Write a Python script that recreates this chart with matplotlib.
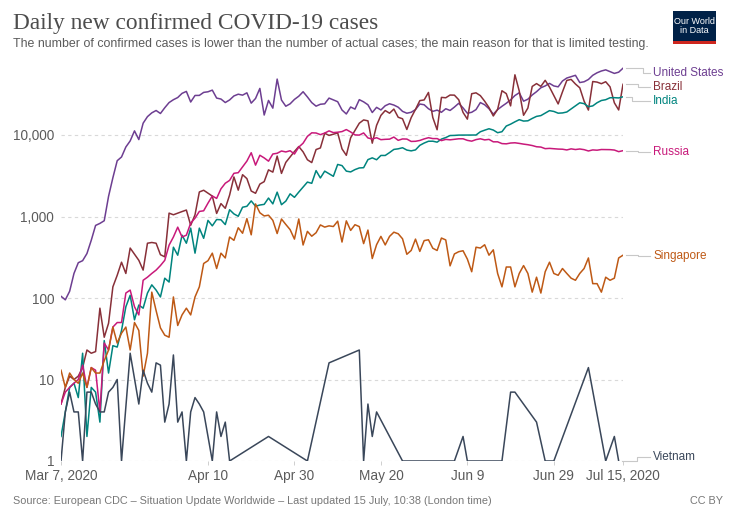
import numpy as np
import pandas as pd
import matplotlib
matplotlib.use("Agg")
import matplotlib.pyplot as plt
import matplotlib.dates as mdates
from matplotlib.lines import Line2D
from matplotlib.patches import Rectangle
from matplotlib.ticker import NullLocator

nan = np.nan
dates = pd.date_range("2020-03-07", "2020-07-15", freq="D")

united_states = [
    105, 95, 121, 200, 271, 287, 351, 511, 777, 823,
    887, 1766, 2988, 4835, 5374, 7123, 8459, 11236, 8789, 13963,
    16797, 18695, 19979, 18360, 21595, 24998, 27103, 28819, 32425, 34272,
    25398, 30561, 30613, 33323, 33901, 35527, 28391, 27620, 25023, 26922,
    30148, 31667, 30833, 32922, 24601, 28065, 37289, 17588, 26543, 21352,
    48529, 26857, 22541, 24132, 27326, 29917, 33955, 29288, 24972, 22593,
    23841, 24128, 28369, 26957, 25612, 20258, 18117, 22048, 20782, 27143,
    25508, 23488, 18873, 21841, 20289, 22860, 24173, 23297, 21928, 19500,
    18500, 19000, 20500, 24000, 23500, 21000, 19500, 20200, 19000, 21000,
    20000, 22000, 24500, 21500, 18500, 19000, 20500, 25000, 23500, 21000,
    18000, 20500, 22500, 24500, 27000, 30500, 33000, 26000, 27500, 31000,
    34000, 38000, 40000, 43000, 40000, 39000, 46000, 50000, 52000, 54000,
    44000, 45000, 48000, 54000, 58000, 61000, 63000, 60000, 57000, 59000, 66000]

brazil = [
    5, 8, 11, 10, 11, 14, 23, 21, 22, 75,
    33, 49, 137, 190, 275, 200, 410, 345, 290, 220,
    470, 480, 470, 340, 320, 1100, 1050, 1100, 1150, 1200,
    780, 1050, 2000, 2100, 1930, 1780, 1090, 1440, 1260, 1830,
    3058, 2105, 3257, 2917, 2055, 1927, 2498, 2678, 3735, 3503,
    5514, 3379, 4613, 5385, 6276, 7218, 6209, 4970, 4588, 6633,
    6935, 10503, 9888, 10222, 10611, 6760, 5632, 9258, 11385, 13944,
    15305, 14919, 7938, 13140, 17408, 19951, 18508, 20803, 16508, 15813,
    11687, 16324, 20599, 26417, 26928, 33274, 16409, 11598, 28936, 28633,
    30925, 30830, 27075, 18912, 15654, 32091, 32913, 30412, 25982, 21704,
    17110, 20647, 34918, 32188, 22765, 54771, 34666, 17459, 21432, 39436,
    42725, 39483, 46860, 38693, 30476, 24052, 33846, 46712, 48105, 42223,
    37923, 26051, 20229, 45305, 44571, 42619, 45048, 39023, 24831, 20286, 41857]

india = [
    2, 4, 8, 9, 6, 21, 2, 8, 7, 3,
    30, 12, 26, 25, 40, 78, 108, 54, 82, 75,
    115, 145, 125, 103, 175, 157, 420, 335, 590, 470,
    720, 355, 720, 540, 896, 768, 918, 912, 796, 1211,
    1076, 1007, 1299, 1334, 1553, 1336, 1383, 1409, 1684, 1429,
    1990, 1396, 1543, 1897, 1718, 1993, 2293, 2644, 2553, 3656,
    2971, 3602, 3344, 3113, 4353, 4213, 3604, 3524, 3763, 3942,
    3970, 4987, 5242, 4970, 5611, 5609, 6088, 6654, 6767, 6977,
    6535, 6387, 6566, 7466, 7964, 8380, 8392, 8171, 8909, 9304,
    9851, 9887, 9971, 9983, 9987, 9985, 9996, 10956, 11458, 11929,
    11502, 10667, 10974, 12881, 13586, 14516, 15413, 14821, 14933, 15968,
    16922, 17296, 18552, 19906, 19459, 18522, 18653, 19148, 20903, 22771,
    24850, 24248, 22252, 22752, 24879, 26506, 27114, 28637, 28701, 28498, 29429]

russia = [
    5, 7, 8, 9, 10, 15, 8, 14, 13, 4,
    28, 23, 44, 50, 50, 115, 125, 78, 62, 165,
    180, 200, 220, 250, 290, 445, 560, 740, 560, 590,
    830, 954, 1154, 1175, 1459, 1786, 1667, 2186, 2558, 2774,
    3388, 3448, 4070, 4785, 6060, 4268, 5642, 5236, 4774, 5849,
    5966, 6361, 6198, 6411, 5841, 7099, 7933, 9623, 10633, 10581,
    10102, 10559, 11231, 10699, 10817, 11012, 11656, 10899, 10028, 9974,
    10598, 9200, 8926, 9263, 8764, 8849, 8894, 9434, 8599, 8946,
    8915, 8338, 8371, 8572, 8952, 9268, 9035, 9035, 8536, 8831,
    8726, 8855, 8984, 8985, 8595, 8404, 8779, 8987, 8706, 8835,
    8246, 8248, 7843, 7790, 7972, 8026, 7889, 7728, 7600, 7425,
    7176, 7113, 6800, 6852, 6791, 6719, 6693, 6556, 6760, 6632,
    6736, 6611, 6368, 6562, 6509, 6635, 6615, 6611, 6537, 6248, 6422]

singapore = [
    13, 8, 12, 10, 9, 12, 8, 14, 12, 12,
    17, 23, 44, 28, 37, 44, 23, 50, 40, 11,
    21, 118, 70, 43, 35, 33, 103, 46, 62, 75,
    62, 103, 137, 265, 287, 355, 230, 355, 310, 560,
    510, 728, 623, 942, 596, 1426, 1111, 1016, 1037, 897,
    618, 931, 799, 690, 528, 932, 447, 657, 573, 632,
    788, 741, 768, 753, 876, 486, 884, 675, 793, 752,
    465, 682, 305, 451, 570, 448, 570, 642, 614, 533,
    344, 383, 528, 373, 506, 518, 408, 383, 544, 516,
    248, 347, 370, 380, 300, 210, 420, 410, 450, 335,
    390, 200, 137, 240, 240, 137, 200, 250, 200, 118,
    180, 115, 210, 275, 200, 190, 230, 200, 175, 165,
    200, 230, 310, 150, 150, 118, 180, 165, 175, 310, 335]

vietnam = [
    1, 4, 7, 4, 4, 1, 7, 7, 5, 4,
    4, 7, 8, 10, 1, nan, 21, nan, 5, 13,
    9, 7, 16, 15, 3, 5, 20, 3, 4, 1,
    4, 6, 5, 4, nan, 1, 4, 2, 3, 1,
    nan, nan, nan, nan, nan, nan, nan, nan, 2, nan,
    nan, nan, nan, nan, nan, nan, nan, 1, nan, nan,
    nan, nan, 16, nan, nan, nan, nan, nan, nan, 23,
    1, 5, 2, 4, nan, nan, nan, nan, nan, 1,
    nan, nan, nan, nan, nan, nan, nan, nan, nan, nan,
    nan, 1, nan, 2, 1, nan, nan, nan, nan, nan,
    nan, nan, 1, nan, 7, 7, nan, nan, nan, nan,
    3, nan, 1, nan, 1, nan, nan, nan, nan, nan,
    nan, nan, 14, nan, nan, nan, 1, nan, 2, 1, nan]

countries = ["United States", "Brazil", "India", "Russia", "Singapore", "Vietnam"]
series = [united_states, brazil, india, russia, singapore, vietnam]
colors = ["#6d3e91", "#883039", "#00847e", "#c8197a", "#be5915", "#3a475a"]
label_y_px = [73, 87, 101, 152, 256, 457]
elbow_x_px = [643, 638, 632, 638, 638, 637]

tick_dates = pd.to_datetime(["2020-03-07", "2020-04-10", "2020-04-30", "2020-05-20",
                             "2020-06-09", "2020-06-29", "2020-07-15"])
tick_labels = ["Mar 7, 2020", "Apr 10", "Apr 30", "May 20", "Jun 9", "Jun 29", "Jul 15, 2020"]
y_ticks = [1, 10, 100, 1000, 10000]
y_tick_labels = ["1", "10", "100", "1,000", "10,000"]

plt.rcParams["font.family"] = ["Liberation Sans", "DejaVu Sans"]

W, H = 736, 519
fig = plt.figure(figsize=(W / 100, H / 100), dpi=100)
fig.patch.set_facecolor("white")

ax_left, ax_right, ax_top, ax_bottom = 61, 623, 62, 461
ax = fig.add_axes([ax_left / W, 1 - ax_bottom / H, (ax_right - ax_left) / W, (ax_bottom - ax_top) / H])
ax.set_yscale("log")
ax.set_ylim(1, 10 ** ((ax_bottom - ax_top) / 81.5))
ax.set_xlim(dates[0], dates[-1])

for vals, col in zip(series, colors):
    arr = np.array(vals, dtype=float)
    m = ~np.isnan(arr)
    ax.plot(dates[m], arr[m], color=col, lw=1.1, solid_joinstyle="round", zorder=3)

ax.set_yticks(y_ticks)
ax.set_yticklabels(y_tick_labels)
ax.yaxis.set_minor_locator(NullLocator())
ax.set_xticks(tick_dates)
ax.set_xticklabels(tick_labels)
ax.xaxis.set_minor_locator(NullLocator())
ax.tick_params(axis="y", length=0, pad=5, labelsize=9.8, labelcolor="#5b5b5b")
ax.tick_params(axis="x", length=3, width=0.6, color="#c8c8c8", pad=3, labelsize=9.8, labelcolor="#5b5b5b")
ax.grid(axis="y", color="#d9d9d9", linestyle=(0, (3, 3)), lw=0.8)
ax.set_axisbelow(True)
for s in ax.spines.values():
    s.set_visible(False)

# End labels with connectors
for name, vals, col, ly, ex in zip(countries, series, colors, label_y_px, elbow_x_px):
    arr = np.array(vals, dtype=float)
    idx = np.where(~np.isnan(arr))[0][-1]
    xd, yd = ax.transData.transform((mdates.date2num(dates[idx]), arr[idx]))
    y_end = H - yd
    xs = [xd + 3, ex, ex, 650]
    ys = [y_end, y_end, ly, ly]
    fig.add_artist(Line2D([p / W for p in xs], [1 - p / H for p in ys],
                          transform=fig.transFigure, color="#c8c8c8", lw=0.8))
    fig.text(653 / W, 1 - ly / H, name, color=col, fontsize=8.5, va="center", ha="left")

# Title & subtitle
fig.text(13 / W, 1 - 29 / H, "Daily new confirmed COVID-19 cases", fontsize=16.8,
         family=["Liberation Serif", "DejaVu Serif"], color="#4d4d4d", va="baseline", ha="left")
fig.text(13 / W, 1 - 44 / H,
         "The number of confirmed cases is lower than the number of actual cases; the main reason for that is limited testing.",
         fontsize=8.95, color="#5b5b5b", va="center", ha="left")

# Footer
fig.text(13 / W, 1 - 501 / H,
         "Source: European CDC \u2013 Situation Update Worldwide \u2013 Last updated 15 July, 10:38 (London time)",
         fontsize=7.8, color="#777777", va="center", ha="left")
fig.text(723 / W, 1 - 501 / H, "CC BY", fontsize=7.8, color="#777777", va="center", ha="right")

# Logo
lx0, lx1, ly0, ly1 = 673, 716, 11, 44
fig.add_artist(Rectangle((lx0 / W, 1 - ly1 / H), (lx1 - lx0) / W, (ly1 - ly0) / H,
                         transform=fig.transFigure, facecolor="#002147", edgecolor="none"))
fig.add_artist(Rectangle((lx0 / W, 1 - ly1 / H), (lx1 - lx0) / W, 3 / H,
                         transform=fig.transFigure, facecolor="#ce261e", edgecolor="none"))
fig.text((lx0 + lx1) / 2 / W, 1 - 26 / H, "Our World\nin Data", fontsize=6.5, color="white",
         ha="center", va="center", linespacing=1.05)

fig.savefig("out.png", dpi=100, facecolor="white")
